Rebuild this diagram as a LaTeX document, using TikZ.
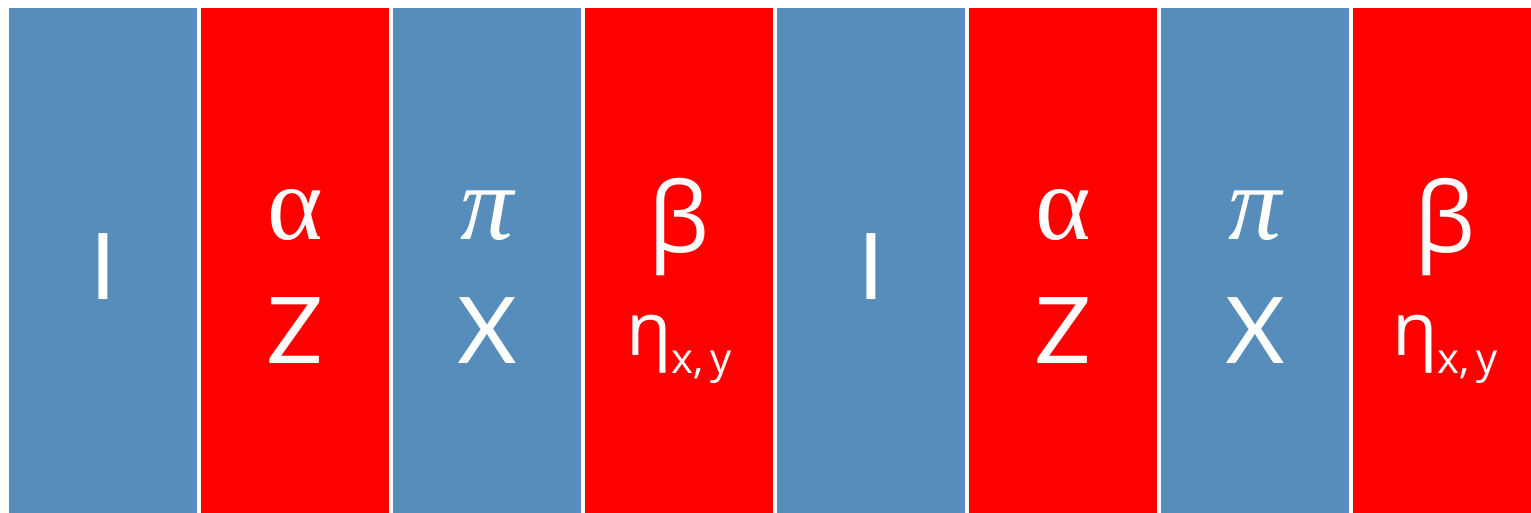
\documentclass[tikz,border=0pt]{standalone}
\usepackage{fontspec}
\setmainfont{Lato}
\newfontfamily\greekfont{Open Sans}
\newfontfamily\serifgreek{Liberation Serif}
\usetikzlibrary{positioning}
\definecolor{stripblue}{RGB}{86,141,186}
\definecolor{stripred}{HTML}{FF0000}

\begin{document}
\begin{tikzpicture}[x=1pt, y=-1pt,
  strip/.style={
    rectangle, inner sep=0pt, draw=none,
    minimum width=188pt, minimum height=530pt,
    anchor=north west
  },
  latin/.style={
    text=white, inner sep=0pt, anchor=base,
    font=\fontsize{92}{100}\selectfont
  },
  alpha/.style={
    text=white, inner sep=0pt, anchor=base,
    font=\serifgreek\fontsize{106}{110}\selectfont
  },
  pisym/.style={
    text=white, inner sep=0pt, anchor=base,
    font=\serifgreek\itshape\fontsize{106}{110}\selectfont
  },
  greek/.style={
    text=white, inner sep=0pt, anchor=base,
    font=\greekfont\fontsize{97}{100}\selectfont
  },
  eta/.style={
    text=white, inner sep=0pt, anchor=base,
    font=\greekfont\fontsize{74}{80}\selectfont
  }
]
\clip (0,0) rectangle (1531,513);
\fill[white] (0,0) rectangle (1531,513);
% the eight strips
\foreach \n/\c in {1/stripblue,2/stripred,3/stripblue,4/stripred,
                   5/stripblue,6/stripred,7/stripblue,8/stripred}
  \node[strip, fill=\c] (col\n) at ({9+192*(\n-1)},8) {};
% labels, first half
\node[latin] (id1)    at (col1.center |- 0,299) {I};
\node[alpha] (alpha1) at (col2.center |- 0,240) {α};
\node[latin] (z1)     at (col2.center |- 0,363) {Z};
\node[pisym] (pi1)    at (col3.center |- 0,240) {π};
\node[latin] (x1)     at (col3.center |- 0,363) {X};
\node[greek] (beta1)  at (col4.center |- 0,252) {β};
\node[eta]   (eta1)   at (col4.center |- 0,355)
  {η{\fontsize{42}{46}\selectfont\raisebox{-18pt}{x,\,y}}};
% labels, second half
\node[latin] (id2)    at (col5.center |- 0,299) {I};
\node[alpha] (alpha2) at (col6.center |- 0,240) {α};
\node[latin] (z2)     at (col6.center |- 0,363) {Z};
\node[pisym] (pi2)    at (col7.center |- 0,240) {π};
\node[latin] (x2)     at (col7.center |- 0,363) {X};
\node[greek] (beta2)  at ([xshift=-2pt]col8.center |- 0,252) {β};
\node[eta]   (eta2)   at ([xshift=-2pt]col8.center |- 0,355)
  {η{\fontsize{42}{46}\selectfont\raisebox{-18pt}{x,\,y}}};
\end{tikzpicture}
\end{document}
